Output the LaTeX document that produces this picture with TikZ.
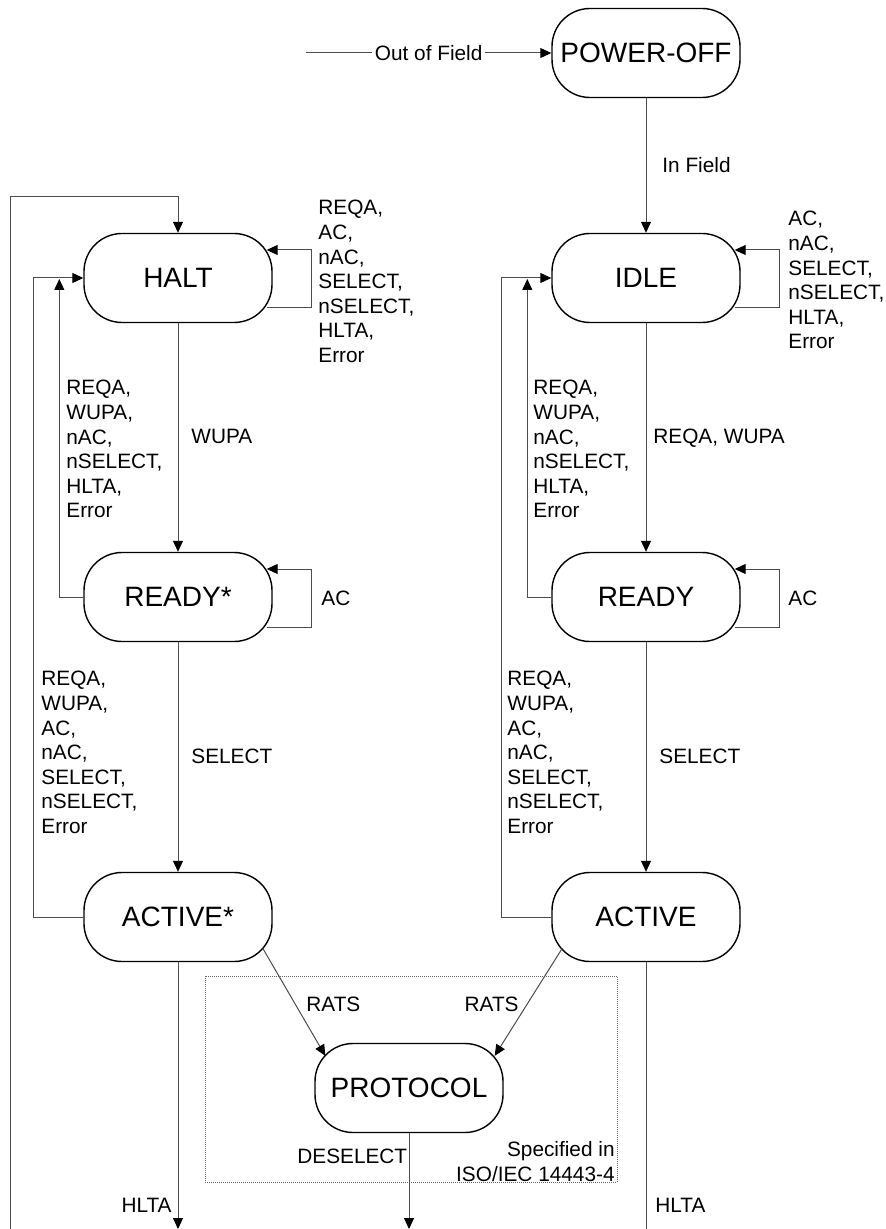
\documentclass[tikz,border=0pt]{standalone}
\usepackage{fontspec}
\setmainfont{Liberation Sans}
\usetikzlibrary{arrows.meta}
\begin{document}
\begin{tikzpicture}
[x=0.5pt, y=-0.5pt,
 state/.style={draw, line width=0.7pt, rounded corners=19pt, minimum width=94pt,
   minimum height=44.5pt, inner sep=0pt, font=\fontsize{14}{16}\selectfont},
 conn/.style={draw=black!70, line width=0.5pt},
 arr/.style={conn, -{Triangle[length=5.5pt,width=5pt,color=black]}},
 lbl/.style={inner sep=0pt, align=left, font=\fontsize{10.4}{12.3}\selectfont}]
  \useasboundingbox (0,0) rectangle (885,1229);
  % ISO/IEC 14443-4 part
  \draw[black!60, line width=0.5pt, dash pattern=on 0.5pt off 0.5pt] (205,976) rectangle (617,1182);

  \node[state] (poweroff) at (646,53) {POWER-OFF};
  \node[state] (halt) at (178,278) {HALT};
  \node[state] (idle) at (646,278) {IDLE};
  \node[state] (readys) at (178,597) {READY*};
  \node[state] (ready) at (646,597) {READY};
  \node[state] (actives) at (178,917) {ACTIVE*};
  \node[state] (active) at (646,917) {ACTIVE};
  \node[state] (protocol) at (409,1088) {PROTOCOL};

  \coordinate (oof) at (306,53);
  \coordinate (outer) at (10,1229);
  \coordinate (hltaL) at (178,1229);
  \coordinate (hltaR) at (646,1229);
  \coordinate (deselect) at (409,1229);

  \draw[arr] (oof) -- node[lbl, fill=white, inner sep=1.5pt] {Out of Field} (poweroff);
  \draw[arr] (poweroff) -- (idle);
  \draw[arr] (outer) |- ([yshift=18pt]halt.north) -- (halt.north);

  % left column
  \draw[arr] (halt) -- (readys);
  \draw[arr] (readys) -- (actives);
  \draw[arr] ([xshift=-3pt,yshift=-15pt]halt.east) -- ++(45,0) -- ++(0,-58)
     -- ([xshift=-3pt,yshift=14pt]halt.east);
  \draw[arr] ([xshift=-3pt,yshift=-15pt]readys.east) -- ++(45,0) -- ++(0,-58)
     -- ([xshift=-3pt,yshift=14pt]readys.east);
  \draw[arr] (actives.west) -| ([xshift=-25pt]halt.west) -- (halt.west);
  \draw[arr] (readys.west) -| ([xshift=-12pt,yshift=-0.5pt]halt.west);
  \draw[arr] (actives) -- (hltaL);

  % right column
  \draw[arr] (idle) -- (ready);
  \draw[arr] (ready) -- (active);
  \draw[arr] ([xshift=-3pt,yshift=-15pt]idle.east) -- ++(45,0) -- ++(0,-58)
     -- ([xshift=-3pt,yshift=14pt]idle.east);
  \draw[arr] ([xshift=-3pt,yshift=-15pt]ready.east) -- ++(45,0) -- ++(0,-58)
     -- ([xshift=-3pt,yshift=14pt]ready.east);
  \draw[arr] (active.west) -| ([xshift=-25pt]idle.west) -- (idle.west);
  \draw[arr] (ready.west) -| ([xshift=-12pt,yshift=-0.5pt]idle.west);
  \draw[conn] (active) -- (hltaR);

  \draw[arr] ([xshift=-5pt,yshift=7pt]actives.south east) -- ([xshift=5.5pt,yshift=-6.5pt]protocol.north west);
  \draw[arr] ([xshift=5.5pt,yshift=7pt]active.south west) -- ([xshift=-4.5pt,yshift=-6.5pt]protocol.north east);
  \draw[arr] (protocol) -- (deselect);

  % labels
  \node[lbl, anchor=base west] (infield) at (662,173) {In Field};
  \node[lbl, anchor=north west] (haltloop) at (318,200) {REQA,\\AC,\\nAC,\\SELECT,\\nSELECT,\\HLTA,\\Error};
  \node[lbl, anchor=north west] (idleloop) at (788,211) {AC,\\nAC,\\SELECT,\\nSELECT,\\HLTA,\\Error};
  \node[lbl, anchor=north west] (backL1) at (66,380) {REQA,\\WUPA,\\nAC,\\nSELECT,\\HLTA,\\Error};
  \node[lbl, anchor=north west] (backR1) at (533,380) {REQA,\\WUPA,\\nAC,\\nSELECT,\\HLTA,\\Error};
  \node[lbl, anchor=base west] (wupa) at (191,444) {WUPA};
  \node[lbl, anchor=base west] (reqawupa) at (653,444) {REQA, WUPA};
  \node[lbl, anchor=base west] (acL) at (321,605) {AC};
  \node[lbl, anchor=base west] (acR) at (788,605) {AC};
  \node[lbl, anchor=north west] (backL2) at (41,671) {REQA,\\WUPA,\\AC,\\nAC,\\SELECT,\\nSELECT,\\Error};
  \node[lbl, anchor=north west] (backR2) at (507,671) {REQA,\\WUPA,\\AC,\\nAC,\\SELECT,\\nSELECT,\\Error};
  \node[lbl, anchor=base west] (selL) at (191,763) {SELECT};
  \node[lbl, anchor=base west] (selR) at (659,763) {SELECT};
  \node[lbl, anchor=base west] (ratsL) at (306,1011) {RATS};
  \node[lbl, anchor=base east] (ratsR) at (519,1011) {RATS};
  \node[lbl, anchor=base west] (desel) at (297,1163) {DESELECT};
  \node[lbl, anchor=north east, align=right] (spec) at (615,1141) {Specified in\\ISO/IEC 14443-4};
  \node[lbl, anchor=base east] (hltaLl) at (172,1212) {HLTA};
  \node[lbl, anchor=base west] (hltaRl) at (655,1212) {HLTA};
\end{tikzpicture}
\end{document}
